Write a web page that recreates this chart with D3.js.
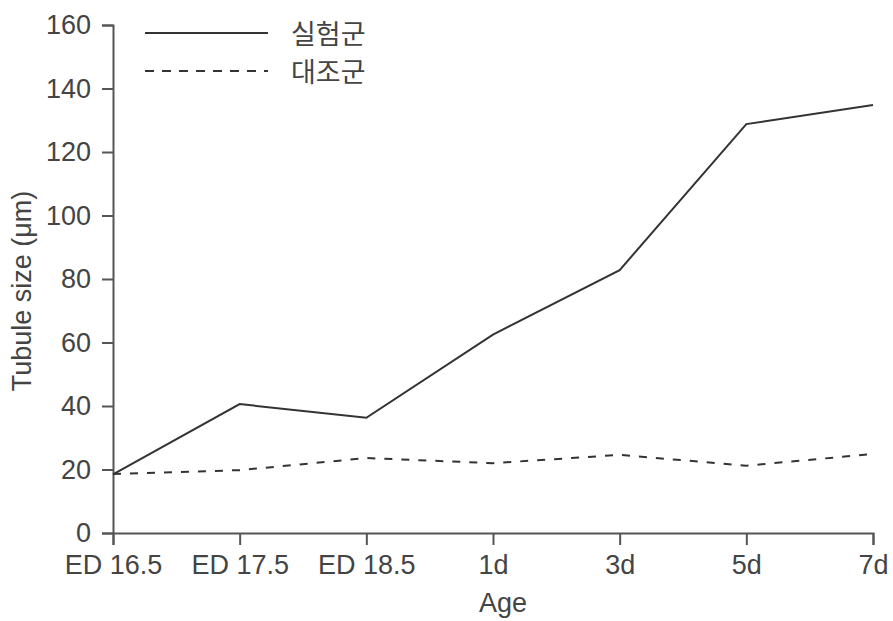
<!DOCTYPE html>
<html>
<head>
<meta charset="utf-8">
<script src="https://cdn.jsdelivr.net/npm/d3@7"></script>
<style>
  html, body { margin: 0; padding: 0; background: #fff; }
  svg { display: block; }
  text { font-family: "Liberation Sans", Arial, "Noto Sans CJK KR", sans-serif; }
</style>
</head>
<body>
<svg id="chart" width="893" height="621"></svg>
<script>
// Age points on the x axis
const ages = ["ED 16.5", "ED 17.5", "ED 18.5", "1d", "3d", "5d", "7d"];
// Tubule size (µm) for each group
const experimental = [18.5, 40.6, 36.3, 62.5, 82.8, 128.8, 134.8];
const control = [18.6, 19.8, 23.6, 22.0, 24.6, 21.2, 24.9];
// Y axis ticks
const yTicks = [0, 20, 40, 60, 80, 100, 120, 140, 160];
// Legend entries
const seriesNames = ["실험군", "대조군"];

const svg = d3.select("#chart");
const textColor = "#444";
const lineColor = "#333";

const x = d3.scalePoint().domain(ages).range([113, 873]);
const y = d3.scaleLinear().domain([0, 160]).range([533, 25]);

// Y axis
const yAxis = svg.append("g")
  .attr("transform", "translate(113,0)")
  .call(d3.axisLeft(y).tickValues(yTicks).tickSize(11).tickPadding(11));
// X axis
const xAxis = svg.append("g")
  .attr("transform", "translate(0,533)")
  .call(d3.axisBottom(x).tickSize(12).tickPadding(10));

[yAxis, xAxis].forEach(g => {
  g.select(".domain").attr("stroke", "#555").attr("stroke-width", 2);
  g.selectAll(".tick line").attr("stroke", "#555").attr("stroke-width", 2);
  g.selectAll(".tick text")
    .attr("fill", textColor)
    .style("font-size", "27px")
    .style("font-family", "'Liberation Sans', Arial, sans-serif");
});
xAxis.selectAll(".tick text").attr("dy", "0.71em");

// Axis titles
svg.append("text")
  .attr("x", 503).attr("y", 612)
  .attr("text-anchor", "middle")
  .attr("fill", textColor)
  .style("font-size", "27px")
  .text("Age");

svg.append("text")
  .attr("transform", "translate(31,291) rotate(-90)")
  .attr("text-anchor", "middle")
  .attr("fill", textColor)
  .style("font-size", "27px")
  .text("Tubule size (μm)");

// Data lines
const line = d3.line()
  .x((d, i) => x(ages[i]))
  .y(d => y(d));

svg.append("path")
  .datum(experimental)
  .attr("d", line)
  .attr("fill", "none")
  .attr("stroke", lineColor)
  .attr("stroke-width", 2);

svg.append("path")
  .datum(control)
  .attr("d", line)
  .attr("fill", "none")
  .attr("stroke", lineColor)
  .attr("stroke-width", 2)
  .attr("stroke-dasharray", "8 9");

// Legend
const legend = svg.append("g");
const legendRows = [
  { name: seriesNames[0], dash: null, y: 33 },
  { name: seriesNames[1], dash: "9 8", y: 71 }
];
legendRows.forEach(r => {
  legend.append("line")
    .attr("x1", 145).attr("x2", 268)
    .attr("y1", r.y).attr("y2", r.y)
    .attr("stroke", lineColor)
    .attr("stroke-width", 2)
    .attr("stroke-dasharray", r.dash);
  legend.append("text")
    .attr("x", 291).attr("y", r.y + 2)
    .attr("dy", "0.35em")
    .attr("fill", textColor)
    .style("font-size", "27px")
    .style("font-family", "'Noto Sans CJK KR', sans-serif")
    .text(r.name);
});
</script>
</body>
</html>
